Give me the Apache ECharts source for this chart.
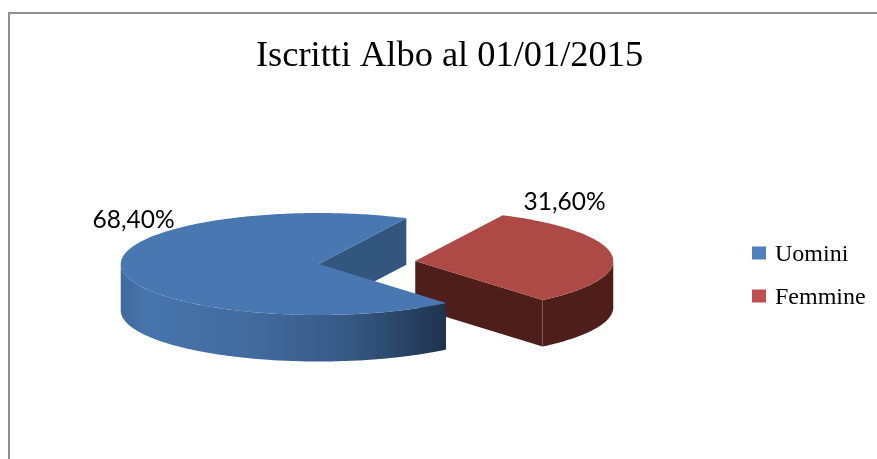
<!DOCTYPE html>
<html>
<head>
<meta charset="utf-8">
<style>
  html, body { margin: 0; padding: 0; background: #fff; }
  #chart { width: 877px; height: 459px; }
</style>
</head>
<body>
<div id="chart"></div>
<script src="https://cdn.jsdelivr.net/npm/echarts@6/dist/echarts.min.js"></script>
<script>
const categories = ["Uomini", "Femmine"];
const shares = [68.4, 31.6];
const chartTitle = "Iscritti Albo al 01/01/2015";

// Excel style tilted pie: no 3D pie in plain echarts, so custom series
const firstSliceAngle = 140; // degrees clockwise from 12 o'clock
const pieCenter = [367, 262.5];
const radiusX = 198;
const radiusY = 51;
const depth = 46.5;
const explode = 48.6;
const labelAt = [[133.5, 220], [564.5, 202]];
const legendColors = ["#4f81bd", "#c0504d"];
const topColors = ["#4877b1", "#ad4a45"];
const wallColors = ["#33567f", "#4e1e1b"];

function rimFill(i) {
  if (i !== 0) return wallColors[i];
  return new echarts.graphic.LinearGradient(0, 0, 1, 0, [
    { offset: 0, color: "#41699c" },
    { offset: 0.08, color: "#4675ad" },
    { offset: 0.45, color: "#41689a" },
    { offset: 0.7, color: "#375985" },
    { offset: 1, color: "#1e334e" },
  ]);
}

function sliceRange(i) {
  let from = firstSliceAngle;
  for (let k = 0; k < i; k++) from += (shares[k] / 100) * 360;
  return [from, from + (shares[i] / 100) * 360];
}

function renderSlice(i) {
  const [from, to] = sliceRange(i);
  const mid = ((from + to) / 2) * Math.PI / 180;
  const cx = pieCenter[0] + explode * Math.sin(mid);
  const cy = pieCenter[1] - explode * Math.cos(mid) * (radiusY / radiusX);

  const pt = (deg, drop) => {
    const a = deg * Math.PI / 180;
    return [cx + radiusX * Math.sin(a), cy - radiusY * Math.cos(a) + (drop || 0)];
  };
  const arc = (a, b, drop) => {
    const out = [];
    const n = Math.max(2, Math.ceil(Math.abs(b - a)));
    for (let s = 0; s <= n; s++) out.push(pt(a + ((b - a) * s) / n, drop));
    return out;
  };

  const children = [];

  // cut faces, only those turned towards the viewer
  const faces = [[from, from - 90], [to, to + 90]];
  faces.forEach(([edge, normal]) => {
    if (Math.cos(normal * Math.PI / 180) >= 0) return;
    children.push({
      type: "polygon",
      shape: { points: [[cx, cy], pt(edge), pt(edge, depth), [cx, cy + depth]] },
      style: { fill: wallColors[i] },
    });
  });

  // outer wall, front half of the ellipse only
  [[90, 270], [450, 630]].forEach(([lo, hi]) => {
    const a = Math.max(from, lo);
    const b = Math.min(to, hi);
    if (a >= b) return;
    children.push({
      type: "polygon",
      shape: { points: arc(a, b, 0).concat(arc(b, a, depth)) },
      style: { fill: rimFill(i) },
    });
  });

  children.push({
    type: "polygon",
    shape: { points: [[cx, cy]].concat(arc(from, to, 0)) },
    style: { fill: topColors[i] },
  });

  children.push({
    type: "text",
    style: {
      x: labelAt[i][0],
      y: labelAt[i][1],
      text: shares[i].toFixed(2).replace(".", ",") + "%",
      fill: "#000",
      font: '24.5px Lato, "Noto Sans", sans-serif',
      align: "center",
      verticalAlign: "middle",
    },
  });

  return { type: "group", children };
}

const chart = echarts.init(document.getElementById("chart"));

chart.setOption({
  backgroundColor: "#fff",
  animation: false,
  title: {
    text: chartTitle,
    left: 256,
    top: 38,
    padding: 0,
    textStyle: {
      fontFamily: "Liberation Serif",
      fontSize: 36.4,
      fontWeight: "normal",
      color: "#000",
    },
  },
  legend: {
    orient: "vertical",
    left: 752,
    top: 243,
    padding: 0,
    itemWidth: 14,
    itemHeight: 13,
    itemGap: 19,
    icon: "rect",
    selectedMode: false,
    data: categories,
    // text sits a little lower than its square in the reference
    formatter: "{a|{name}}",
    textStyle: {
      rich: {
        a: {
          fontFamily: "Liberation Serif",
          fontSize: 24,
          color: "#000",
          padding: [4, 0, 0, 4],
        },
      },
    },
  },
  // frame of the cropped chart area
  graphic: [
    { type: "rect", shape: { x: 8, y: 12, width: 869, height: 2 }, style: { fill: "#8f8f8f" }, silent: true },
    { type: "rect", shape: { x: 8, y: 12, width: 2, height: 447 }, style: { fill: "#8f8f8f" }, silent: true },
  ],
  // red goes first, the blue corner sits over its wall
  series: [1, 0].map((i) => ({
    type: "custom",
    name: categories[i],
    coordinateSystem: "none",
    itemStyle: { color: legendColors[i] },
    silent: true,
    data: [shares[i]],
    renderItem: () => renderSlice(i),
  })),
});
</script>
</body>
</html>
